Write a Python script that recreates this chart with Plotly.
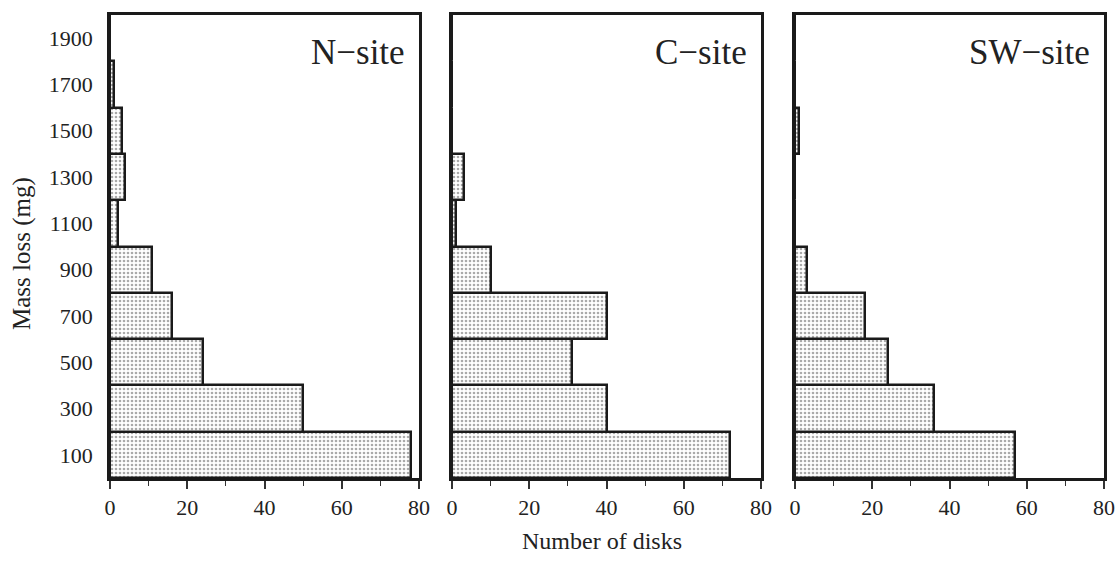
import plotly.graph_objects as go

bin_centers = [100, 300, 500, 700, 900, 1100, 1300, 1500, 1700, 1900]
sites = ["N\u2212site", "C\u2212site", "SW\u2212site"]
n_site = [78, 50, 24, 16, 11, 2, 4, 3, 1, 0]
c_site = [72, 40, 31, 40, 10, 1, 3, 0, 0, 0]
sw_site = [57, 36, 24, 18, 3, 0, 0, 1, 0, 0]
x_ticks = [0, 20, 40, 60, 80]
bin_width = 200

W, H = 1118, 561
panels_px = [(110, 419), (452, 761), (795, 1104)]
top_px, bot_px = 15, 478
ydom = [(H - bot_px) / H, (H - top_px) / H]

FONT = "Liberation Serif, Times New Roman, serif"

fig = go.Figure()
series = [n_site, c_site, sw_site]
for i, (vals, name) in enumerate(zip(series, sites)):
    xa = "x" if i == 0 else f"x{i+1}"
    ya = "y" if i == 0 else f"y{i+1}"
    fig.add_trace(go.Bar(
        y=bin_centers, x=vals, orientation="h", width=bin_width,
        xaxis=xa, yaxis=ya, showlegend=False,
        marker=dict(color="white",
                    line=dict(color="#1a1a1a", width=2.5),
                    pattern=dict(shape=".", size=4, solidity=0.35,
                                 fgcolor="#555555", bgcolor="white")),
    ))
    l, r = panels_px[i]
    xkey = "xaxis" if i == 0 else f"xaxis{i+1}"
    ykey = "yaxis" if i == 0 else f"yaxis{i+1}"
    fig.update_layout(**{
        xkey: dict(domain=[l / W, r / W], anchor=ya, range=[0, 80],
                   automargin=False,
                   tickvals=x_ticks, ticks="outside", ticklen=8, tickwidth=1.5,
                   tickcolor="#333", showline=True, linecolor="#1a1a1a",
                   linewidth=2.5, mirror=True, showgrid=False, zeroline=False,
                   tickfont=dict(family=FONT, size=22, color="#222"),
                   minor=dict(dtick=10, tick0=0, ticks="outside", ticklen=5,
                              tickwidth=1.2, tickcolor="#333", showgrid=False),
                   fixedrange=True),
        ykey: dict(domain=ydom, anchor=xa, range=[0, 2000],
                   automargin=False,
                   tickvals=bin_centers, ticks="", showline=True,
                   linecolor="#1a1a1a", linewidth=2.5, mirror=True,
                   showgrid=False, zeroline=False,
                   showticklabels=(i == 0),
                   ticklabelstandoff=10,
                   tickfont=dict(family=FONT, size=22, color="#222"),
                   fixedrange=True),
    })
    fig.add_annotation(text=name, xref=f"{xa} domain", yref=f"{ya} domain",
                       x=0.962, y=0.918, xanchor="right", yanchor="middle",
                       showarrow=False,
                       font=dict(family=FONT, size=35, color="#222"))

fig.add_annotation(text="Number of disks", xref="paper", yref="paper",
                   x=602 / W, y=(H - 541) / H, xanchor="center", yanchor="middle",
                   showarrow=False, font=dict(family=FONT, size=24, color="#222"))
fig.add_annotation(text="Mass loss (mg)", xref="paper", yref="paper",
                   x=22 / W, y=(H - 254) / H, xanchor="center", yanchor="middle",
                   textangle=-90, showarrow=False,
                   font=dict(family=FONT, size=25, color="#222"))

fig.update_layout(width=W, height=H, margin=dict(l=0, r=0, t=0, b=0, autoexpand=False),
                  plot_bgcolor="white", paper_bgcolor="white", bargap=0)
fig.write_html("out.html", config={"displayModeBar": False},
               post_script="document.body.style.margin='0';document.body.style.overflow='hidden';")
